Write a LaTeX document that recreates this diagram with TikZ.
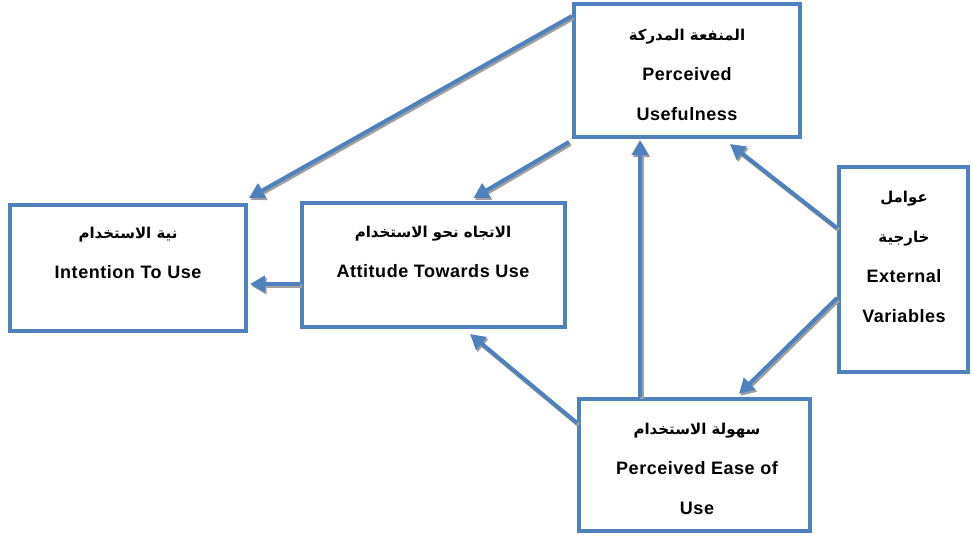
\documentclass[tikz,border=0pt]{standalone}
\usepackage{fontspec}
\setmainfont{Liberation Sans}[LetterSpace=3]
\newfontfamily\arabicfont[Script=Arabic]{DejaVu Sans}
\TeXXeTstate=1
\usetikzlibrary{arrows.meta,positioning}
\definecolor{tamblue}{HTML}{4F81BD}
\definecolor{shadowgray}{HTML}{A0A0A0}
\newcommand{\artext}[1]{{\arabicfont\fontsize{15}{40}\selectfont\beginR #1\endR}}

\begin{document}
\begin{tikzpicture}[x=1pt,y=-1pt,>={Triangle[length=15pt,width=16pt]},
    box/.style={draw=tamblue,line width=4pt,fill=white,inner sep=0pt},
    lbl/.style={align=center,font=\bfseries\fontsize{18}{40}\selectfont},
    link/.style={->,draw=tamblue,line width=4pt},
    shade/.style={->,draw=shadowgray,line width=4pt,transform canvas={shift={(1.5pt,-2pt)}}}]
  \useasboundingbox (0,0) rectangle (972,538);

  % the five blocks of the model
  \node[box,minimum width=226pt,minimum height=133pt] (pu) at (687,70.5) {};
  \node[box,minimum width=236pt,minimum height=126pt] (itu) at (128,268) {};
  \node[box,minimum width=263pt,minimum height=124pt] (atu) at (433.5,265) {};
  \node[box,minimum width=129pt,minimum height=205pt] (ext) at (903.5,269.5) {};
  \node[box,minimum width=231pt,minimum height=132pt] (peou) at (694.5,465) {};

  \node[lbl] (pu text) at (687,75) {\artext{المنفعة المدركة}\\Perceived\\Usefulness};
  \node[lbl] (itu text) at (128,253) {\artext{نية الاستخدام}\\Intention To Use};
  \node[lbl] (atu text) at (433,252) {\artext{الاتجاه نحو الاستخدام}\\Attitude Towards Use};
  \node[lbl] (ext text) at (904,257) {\artext{عوامل}\\\artext{خارجية}\\External\\Variables};
  \node[lbl] (peou text) at (697,469) {\artext{سهولة الاستخدام}\\Perceived Ease of\\Use};

  % end points of the links
  \coordinate (pu1) at ([yshift=-14pt]pu.north west);
  \coordinate (pu2) at ([xshift=-3pt,yshift=-3pt]pu.south west);
  \coordinate (pu3) at ([xshift=-47pt,yshift=-1pt]pu.south);
  \coordinate (pu4) at ([xshift=43pt,yshift=-5pt]pu.south);
  \coordinate (itu1) at ([xshift=1pt,yshift=5pt]itu.north east);
  \coordinate (itu2) at ([xshift=2pt,yshift=-16pt]itu.east);
  \coordinate (atu1) at ([xshift=40pt,yshift=3pt]atu.north);
  \coordinate (atu2) at ([yshift=-19pt]atu.west);
  \coordinate (atu3) at ([xshift=36.5pt,yshift=-5pt]atu.south);
  \coordinate (ext1) at ([yshift=41.5pt]ext.west);
  \coordinate (ext2) at ([yshift=-28.5pt]ext.west);
  \coordinate (peou1) at ([xshift=-54.5pt]peou.north);
  \coordinate (peou2) at ([yshift=-26pt]peou.north west);
  \coordinate (peou3) at ([xshift=44.5pt,yshift=3pt]peou.north);

  \foreach \from/\to in {pu1/itu1,pu2/atu1,atu2/itu2,peou1/pu3,peou2/atu3,ext1/pu4,ext2/peou3}
  {
    \draw[shade] (\from) -- (\to);
    \draw[link] (\from) -- (\to);
  }
\end{tikzpicture}
\end{document}
